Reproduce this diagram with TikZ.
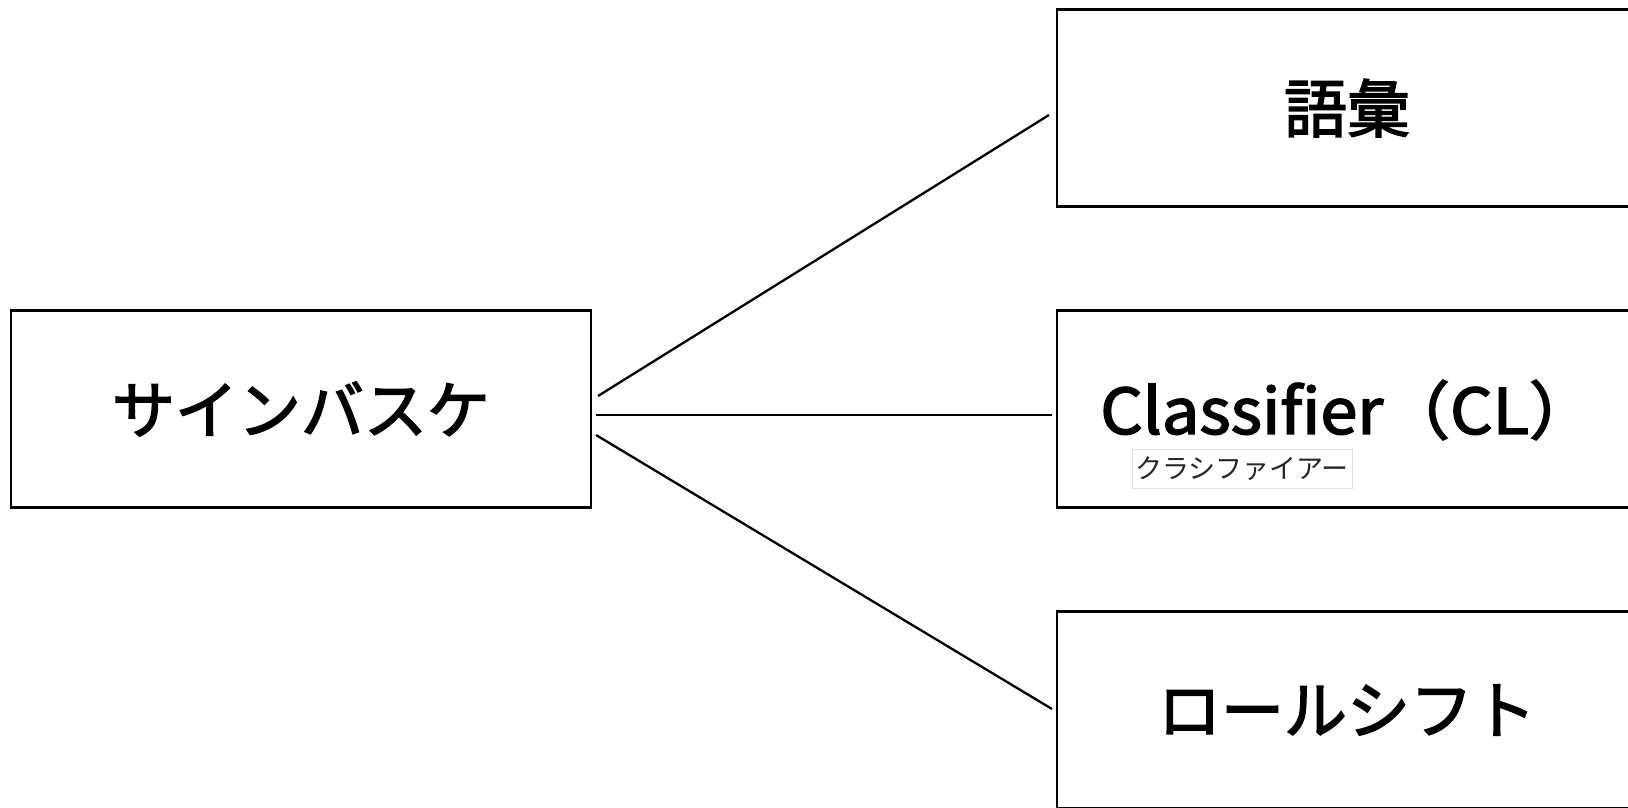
\documentclass[tikz,border=0pt]{standalone}
\usepackage{fontspec}
\newfontfamily\cjk{Noto Sans CJK JP}
\newfontfamily\cjkb[FakeBold=2.4]{Noto Sans CJK JP}
\begin{document}
\begin{tikzpicture}[x=1pt,y=-1pt,
  box/.style={draw=black,line width=2.3pt,rectangle,inner sep=0pt,outer sep=0pt,
    minimum width=580pt,minimum height=197pt,font=\cjkb\fontsize{63}{70}\selectfont},
  conn/.style={draw=black,line width=2.3pt},
  lbl/.style={draw=black!12,line width=0.8pt,inner sep=0pt,minimum width=220pt,minimum height=39pt,
    font=\cjk\fontsize{27}{30}\selectfont,text=black!85}]
\useasboundingbox (0,0) rectangle (1628,808);
\fill[white] (0,0) rectangle (1628,808);
\node[box] (L) at (301,409) {サインバスケ};
\node[box] (T) at (1347,108) {語彙};
\node[box] (M) at (1347,409) {};
\node[box] (B) at (1347,710) {ロールシフト};
\node[font=\cjkb\fontsize{63}{70}\selectfont,inner sep=0pt] (MT) at (1348,410) {\scalebox{1.06}[1]{Classifier（CL）}};
\node[lbl] (ML) at (1242,469) {クラシファイアー};
\coordinate (s1) at (598,396);
\coordinate (s2) at (596,415);
\coordinate (s3) at (596,435);
\coordinate (e1) at (1049,115);
\coordinate (e2) at (1052,415);
\coordinate (e3) at (1052,709);
\draw[conn] (s1) -- (e1);
\draw[conn] (s2) -- (e2);
\draw[conn] (s3) -- (e3);
\end{tikzpicture}
\end{document}
